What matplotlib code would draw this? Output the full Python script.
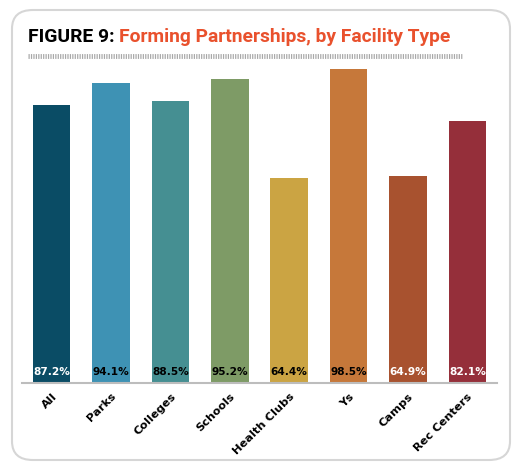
import matplotlib
matplotlib.use("Agg")
import matplotlib.pyplot as plt
from matplotlib.patches import FancyBboxPatch
from matplotlib.lines import Line2D

categories = ["All", "Parks", "Colleges", "Schools", "Health Clubs", "Ys", "Camps", "Rec Centers"]
values = [87.2, 94.1, 88.5, 95.2, 64.4, 98.5, 64.9, 82.1]
labels = ["87.2%", "94.1%", "88.5%", "95.2%", "64.4%", "98.5%", "64.9%", "82.1%"]
colors = ["#0a4c65", "#3e92b4", "#458f92", "#7e9b66", "#cba443", "#c6783a", "#a8522f", "#952f3a"]
label_colors = ["white", "black", "black", "black", "black", "black", "white", "white"]

W, H = 524, 468
fig = plt.figure(figsize=(W / 100, H / 100), dpi=100)

# rounded frame
frame = FancyBboxPatch((12 / W, 8 / H), (510 - 12) / W, (458 - 8) / H,
                       boxstyle="round,pad=0,rounding_size=0.04",
                       transform=fig.transFigure, facecolor="none",
                       edgecolor="#d6d6d6", linewidth=1.5, zorder=-5)
fig.patches.append(frame)

ax = fig.add_axes([22 / W, (H - 383) / H, 475 / W, 319 / H])
ax.patch.set_alpha(0)
x = range(len(categories))
ax.bar(x, values, width=0.63, color=colors, zorder=2)
ax.set_xlim(-0.5, len(categories) - 0.5)
ax.set_ylim(0, 100)
for s in ["top", "right", "left"]:
    ax.spines[s].set_visible(False)
ax.spines["bottom"].set_color("#bdbdbd")
ax.spines["bottom"].set_linewidth(1.5)
ax.set_yticks([])
ax.set_xticks(list(x))
ax.set_xticklabels(categories, rotation=45, ha="right", rotation_mode="anchor",
                   fontsize=8.2, fontweight="bold", color="black")
ax.tick_params(axis="x", length=0, pad=6)
for i, (v, lab, lc) in enumerate(zip(values, labels, label_colors)):
    ax.text(i, 3.5, lab, ha="center", va="center", fontsize=7.6, fontweight="bold",
            color=lc, zorder=3)

# title
t1 = fig.text(28 / W, 1 - 37 / H, "FIGURE 9: ", fontsize=13.9, fontweight="bold",
              color="black", va="center", ha="left", family="Roboto")
fig.canvas.draw()
bb = t1.get_window_extent()
fig.text(bb.x1 / W, 1 - 37 / H, "Forming Partnerships, by Facility Type", fontsize=13.9,
         fontweight="bold", color="#e9512d", va="center", ha="left", family="Roboto")

# dashed rule
fig.lines.append(Line2D([28 / W, 462 / W], [1 - 56 / H, 1 - 56 / H], transform=fig.transFigure,
                        color="#a8a8a8", linewidth=3.5, linestyle=(0, (0.25, 0.25))))

fig.savefig("out.png", dpi=100)
